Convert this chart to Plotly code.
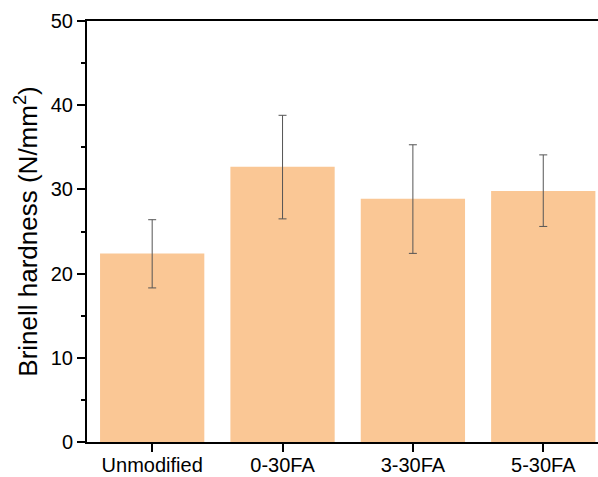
import plotly.graph_objects as go

categories = ["Unmodified", "0-30FA", "3-30FA", "5-30FA"]
hardness = [22.4, 32.7, 28.9, 29.8]
err_plus = [4.0, 6.1, 6.4, 4.3]
err_minus = [4.1, 6.2, 6.5, 4.2]
y_ticks = [0, 10, 20, 30, 40, 50]

fig = go.Figure(go.Bar(
    x=categories, y=hardness, width=0.8,
    marker=dict(color="#FAC795", line=dict(width=0)),
    error_y=dict(type="data", symmetric=False, array=err_plus, arrayminus=err_minus,
                 color="#555555", thickness=1, width=4),
))

fig.update_layout(
    width=598, height=477,
    margin=dict(l=87, r=0, t=21, b=35, autoexpand=False),
    plot_bgcolor="white", paper_bgcolor="white",
    font=dict(family="Liberation Sans, Arial, sans-serif", color="black"),
    showlegend=False,
    bargap=0.2,
)
fig.update_xaxes(
    range=[-0.5, 3.42], showline=True, linecolor="black", linewidth=2, mirror=True,
    ticks="outside", ticklen=8, tickwidth=2, tickcolor="black",
    tickfont=dict(size=20), ticklabelstandoff=-4, showgrid=False, automargin=False,
)
fig.update_yaxes(
    range=[0, 50], tickvals=y_ticks, showline=True, linecolor="black", linewidth=2,
    ticks="outside", ticklen=8, tickwidth=2, tickcolor="black",
    minor=dict(ticks="outside", ticklen=4, tickwidth=2, tickcolor="black", dtick=5),
    tickfont=dict(size=20), showgrid=False, zeroline=False, automargin=False,
    title=dict(text="Brinell hardness (N/mm<sup>2</sup>)", font=dict(size=26), standoff=6),
)

fig.write_html("out.html")
